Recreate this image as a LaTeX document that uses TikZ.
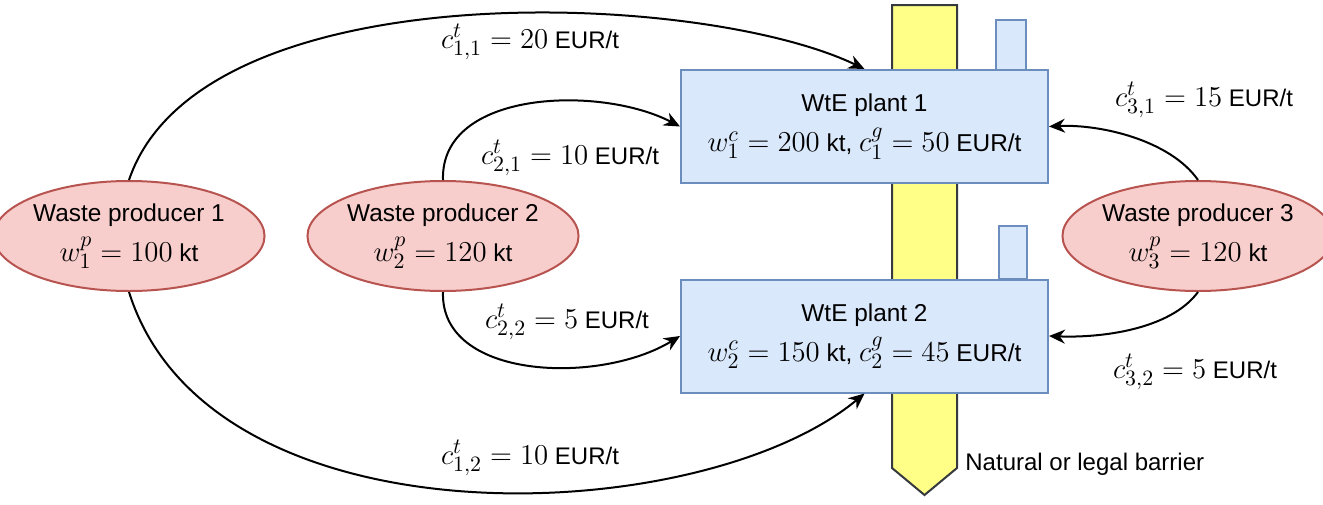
\documentclass[tikz,border=0pt]{standalone}
\usepackage{fontspec}
\setmainfont{Liberation Sans}
\usetikzlibrary{shapes.geometric,arrows.meta}
\definecolor{pfill}{HTML}{F8CECC}
\definecolor{pdraw}{HTML}{B85450}
\definecolor{bfill}{HTML}{DAE8FC}
\definecolor{bdraw}{HTML}{6C8EBF}
\definecolor{yfill}{HTML}{FFFF88}
\definecolor{ydraw}{HTML}{36393D}
\newcommand\mth[1]{{\fontsize{15}{18}\selectfont$#1$}}
\tikzset{
  producer/.style={ellipse, draw=pdraw, fill=pfill, line width=1pt, minimum width=127pt, minimum height=55pt, inner sep=0pt, align=center, font=\fontsize{12.2}{20}\selectfont},
  plant/.style={rectangle, draw=bdraw, fill=bfill, line width=1pt, minimum width=183.5pt, minimum height=56.5pt, inner sep=0pt, align=center, font=\fontsize{12.2}{20}\selectfont},
  chimney/.style={draw=bdraw, fill=bfill, line width=1pt},
  barrier/.style={draw=ydraw, fill=yfill, line width=1pt},
  flow/.style={line width=1pt, -{Stealth[length=8pt,width=7pt]}},
  lbl/.style={font=\fontsize{12}{14}\selectfont, inner sep=0pt}
}
\begin{document}
\begin{tikzpicture}[x=0.5pt,y=-0.5pt]
\useasboundingbox (0,0) rectangle (1323,504);
% barrier
\draw[barrier] (892,5) -- (957,5) -- (957,468) -- (924.5,495) -- (892,468) -- cycle;
% chimneys
\draw[chimney] (996,20) rectangle (1026,70);
\draw[chimney] (999,226) rectangle (1027,279);
% plants
\node[plant] (p1) at (864.5,126.5) {WtE plant 1\\\mth{w^c_1 = 200}~kt, \mth{c^g_1 = 50}~EUR/t};
\node[plant] (p2) at (864.5,336) {WtE plant 2\\\mth{w^c_2 = 150}~kt, \mth{c^g_2 = 45}~EUR/t};
% producers
\node[producer] (wp1) at (129,236) {Waste producer 1\\\mth{w^p_1 = 100}~kt};
\node[producer] (wp2) at (443,236) {Waste producer 2\\\mth{w^p_2 = 120}~kt};
\node[producer] (wp3) at (1198,236) {Waste producer 3\\\mth{w^p_3 = 120}~kt};
% flows
\draw[flow] (wp1.north) .. controls (200,-30) and (700,-10) .. (p1.north);
\draw[flow] (wp1.south) .. controls (210,550) and (700,530) .. (p2.south);
\draw[flow] (wp2.north) .. controls (440,90) and (600,85) .. (p1.west);
\draw[flow] (wp2.south) .. controls (440,380) and (600,385) .. (p2.west);
\draw[flow] (wp3.north) .. controls (1170,140) and (1100,124) .. (p1.east);
\draw[flow] (wp3.south) .. controls (1170,330) and (1100,338) .. (p2.east);
% labels
\node[lbl] (l11) at (530,42) {\mth{c^t_{1,1} = 20}~EUR/t};
\node[lbl] (l12) at (530,458) {\mth{c^t_{1,2} = 10}~EUR/t};
\node[lbl] (l21) at (570,158) {\mth{c^t_{2,1} = 10}~EUR/t};
\node[lbl] (l22) at (567,322) {\mth{c^t_{2,2} = 5}~EUR/t};
\node[lbl] (l31) at (1204,100) {\mth{c^t_{3,1} = 15}~EUR/t};
\node[lbl] (l32) at (1195,372) {\mth{c^t_{3,2} = 5}~EUR/t};
\node[lbl, anchor=west] (lb) at (965,464) {Natural or legal barrier};
\end{tikzpicture}
\end{document}
